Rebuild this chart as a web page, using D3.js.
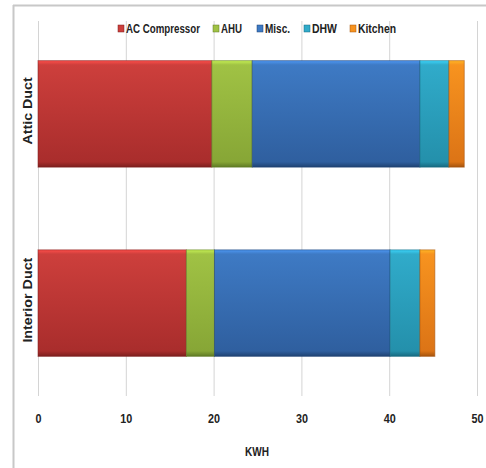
<!DOCTYPE html>
<html>
<head>
<meta charset="utf-8">
<script src="https://cdn.jsdelivr.net/npm/d3@7"></script>
<style>
  html, body { margin: 0; padding: 0; background: #fff; }
  svg { display: block; }
  text { font-family: "Liberation Sans", Arial, sans-serif; font-weight: bold; fill: #222; }
</style>
</head>
<body>
<script>
// Energy use per duct configuration, by end use (kWh)
const categories = ["Attic Duct", "Interior Duct"];
const seriesNames = ["AC Compressor", "AHU", "Misc.", "DHW", "Kitchen"];
const acCompressor = [19.8, 16.9];
const ahu = [4.6, 3.2];
const misc = [19.1, 20.0];
const dhw = [3.3, 3.4];
const kitchen = [1.75, 1.7];
const xTicks = [0, 10, 20, 30, 40, 50];
const xTitle = "KWH";

const seriesValues = [acCompressor, ahu, misc, dhw, kitchen];
const colors = [
  { top: "#cd3f3c", bottom: "#a92d2c", edge: "#7d1f1e" },
  { top: "#a0c244", bottom: "#87a636", edge: "#5f7a24" },
  { top: "#3e7ac4", bottom: "#2f5f9f", edge: "#1f4272" },
  { top: "#30abca", bottom: "#2490ab", edge: "#176a80" },
  { top: "#f7931f", bottom: "#dc7416", edge: "#a5540e" }
];

const W = 486, H = 468;
const svg = d3.select("body").append("svg").attr("width", W).attr("height", H);

// Outer frame
svg.append("line").attr("x1", 13).attr("x2", W).attr("y1", 5.5).attr("y2", 5.5)
  .attr("stroke", "#c8c8c8").attr("stroke-width", 2);
svg.append("line").attr("x1", 13.5).attr("x2", 13.5).attr("y1", 5).attr("y2", H)
  .attr("stroke", "#c8c8c8").attr("stroke-width", 2);

const x = d3.scaleLinear().domain([0, 50]).range([38, 477]);
const y = d3.scaleBand().domain(categories).range([19, 398]).paddingInner(0.437).paddingOuter(0.22);

// Stack the series per category
const rows = categories.map((c, i) => {
  const r = { category: c };
  seriesNames.forEach((s, j) => { r[s] = seriesValues[j][i]; });
  return r;
});
const stacked = d3.stack().keys(seriesNames)(rows);

// Gradients for the bevelled bar look
const defs = svg.append("defs");
colors.forEach((c, i) => {
  const g = defs.append("linearGradient").attr("id", "grad" + i)
    .attr("x1", 0).attr("x2", 0).attr("y1", 0).attr("y2", 1);
  g.append("stop").attr("offset", "0%").attr("stop-color", d3.color(c.top).brighter(0.6));
  g.append("stop").attr("offset", "4%").attr("stop-color", c.top);
  g.append("stop").attr("offset", "95%").attr("stop-color", c.bottom);
  g.append("stop").attr("offset", "100%").attr("stop-color", c.edge);
});

// Vertical gridlines
svg.append("g").selectAll("line").data(xTicks).join("line")
  .attr("x1", d => x(d) + 0.5).attr("x2", d => x(d) + 0.5)
  .attr("y1", 21).attr("y2", 396)
  .attr("stroke", "#d4d4d4").attr("stroke-width", 1);

// Bars
svg.append("g").selectAll("g").data(stacked).join("g")
  .each(function(layer, i) {
    d3.select(this).selectAll("rect").data(layer).join("rect")
      .attr("x", d => x(d[0]))
      .attr("y", d => y(d.data.category))
      .attr("width", d => x(d[1]) - x(d[0]))
      .attr("height", y.bandwidth())
      .attr("fill", "url(#grad" + i + ")")
      .attr("stroke", colors[i].edge)
      .attr("stroke-opacity", 0.55)
      .attr("stroke-width", 1);
  });

const labelFont = "'Liberation Sans', Arial, sans-serif";

// X axis tick labels
const xAxis = d3.axisBottom(x).tickValues(xTicks).tickSize(0).tickPadding(0);
const gx = svg.append("g").attr("transform", "translate(0,414)").call(xAxis);
gx.select(".domain").remove();
gx.selectAll("text").attr("font-size", 13).attr("fill", "#222")
  .attr("textLength", d => String(d).length * 6)
  .attr("lengthAdjust", "spacingAndGlyphs")
  .style("font-family", labelFont).style("font-weight", "bold");

svg.append("text").attr("x", 257).attr("y", 456).attr("text-anchor", "middle")
  .attr("font-size", 13).attr("textLength", 24).attr("lengthAdjust", "spacingAndGlyphs")
  .text(xTitle);

// Y category labels
const yLabelWidth = { "Attic Duct": 67, "Interior Duct": 85 };
const yAxis = d3.axisLeft(y).tickSize(0).tickPadding(0);
const gy = svg.append("g").attr("transform", "translate(32,0)").call(yAxis);
gy.select(".domain").remove();
gy.selectAll("text")
  .attr("transform", "rotate(-90)")
  .attr("x", 0).attr("y", 0).attr("dy", 0)
  .attr("text-anchor", "middle")
  .attr("font-size", 13).attr("fill", "#222")
  .attr("textLength", d => yLabelWidth[d])
  .attr("lengthAdjust", "spacingAndGlyphs")
  .style("font-family", labelFont).style("font-weight", "bold");
gy.selectAll(".tick").attr("transform", d => `translate(0,${y(d) + y.bandwidth() / 2 - 3})`);

// Legend
const legendX = [118, 213, 257, 304, 350];
const legendTextW = [74, 21, 25, 25, 38];
const legend = svg.append("g").selectAll("g").data(seriesNames).join("g")
  .attr("transform", (d, i) => `translate(${legendX[i]},29)`);
legend.append("rect").attr("x", 0).attr("y", -4).attr("width", 6).attr("height", 7)
  .attr("fill", (d, i) => colors[i].top).attr("stroke", (d, i) => colors[i].edge).attr("stroke-width", 0.5);
legend.append("text").attr("x", 8).attr("y", 4).attr("font-size", 12)
  .attr("textLength", (d, i) => legendTextW[i]).attr("lengthAdjust", "spacingAndGlyphs")
  .text(d => d);
</script>
</body>
</html>
